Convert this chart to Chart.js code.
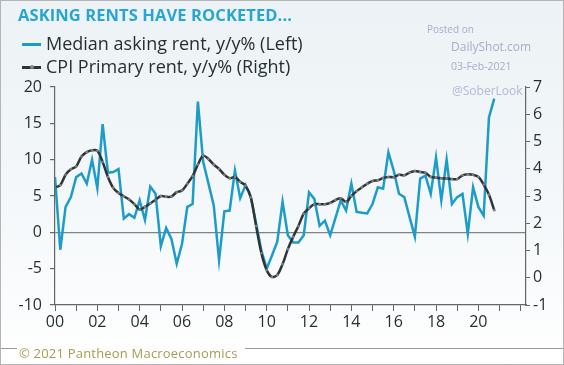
<!DOCTYPE html>
<html>
<head>
<meta charset="utf-8">
<script src="https://cdn.jsdelivr.net/npm/chart.js@4.4.1/dist/chart.umd.min.js"></script>
<style>
  html, body { margin: 0; padding: 0; }
  body {
    width: 564px; height: 365px; position: relative; overflow: hidden;
    background: linear-gradient(180deg, #ecf2f5 0%, #f3f7f9 50%, #fbfcfd 85%, #ffffff 100%);
    font-family: "Open Sans", sans-serif;
  }
  .frame { position: absolute; left: 0; top: 0; width: 562px; height: 363px; border: 1px solid #b5b5b5; pointer-events: none; }
  .title { position: absolute; left: 18px; top: 3px; font-size: 16.5px; font-weight: 700; color: #27a6d3; letter-spacing: 0.1px; }
  .leg { position: absolute; left: 22px; font-size: 18px; color: #26302f; white-space: nowrap; }
  .leg .mk { display: inline-block; width: 19px; height: 3px; vertical-align: middle; margin-right: 5px; position: relative; top: -1px; }
  .leg .dot { position: absolute; left: 8px; top: -1px; width: 4px; height: 4px; border-radius: 50%; background: #888; }
  .wm { position: absolute; color: #aaaaca; white-space: nowrap; }
  .foot { position: absolute; left: 19px; top: 344px; font-size: 13px; color: #a99b52; white-space: nowrap; letter-spacing: 0.2px; }
  .fline { position: absolute; top: 348px; height: 1px; background: #9a9a9a; }
  #wrap { position: absolute; left: 0; top: 0; width: 564px; height: 365px; }
</style>
</head>
<body>
<div id="wrap"><canvas id="chart" width="564" height="365"></canvas></div>
<div class="title">ASKING RENTS HAVE ROCKETED...</div>
<div class="leg" style="top:31px;"><span class="mk" style="background:#1d9cc8;"></span>Median asking rent, y/y% (Left)</div>
<div class="leg" style="top:54px;"><span class="mk" style="background:#2e3536;"><span class="dot"></span></span>CPI Primary rent, y/y% (Right)</div>
<div class="wm" style="left:427px; top:22px; font-size:10px;">Posted on</div>
<div class="wm" style="left:451px; top:38px; font-size:12px;">DailyShot.com</div>
<div class="wm" style="left:451px; top:59px; font-size:10.5px;">03-Feb-2021</div>
<div class="wm" style="left:452px; top:82px; font-size:12px; color:#b6b6d8;">@SoberLook</div>
<div class="fline" style="left:0; width:17px;"></div>
<div class="fline" style="left:245px; width:319px;"></div>
<div class="foot">© 2021 Pantheon Macroeconomics</div>
<div class="frame"></div>

<script>
// quarterly, 2000Q1 .. 2020Q4
const startYear = 2000;
const quarters = Array.from({ length: 84 }, (_, i) => startYear + i / 4);

// Median asking rent, y/y% (left axis)
const askingRent = [
  7.6, -2.4, 3.5, 4.85,   7.6, 8.1, 6.7, 10.0,   6.1, 14.9, 8.2, 8.3,
  8.7, 1.9, 2.5, 2.0,     4.4, 1.7, 6.3, 5.3,    -1.9, 0.6, -0.9, -4.3,
  -1.6, 3.5, 3.9, 18.0,   9.7, 6.7, 3.7, -3.85,  2.9, 3.0, 8.5, 4.7,
  6.5, 4.85, 1.2, -2.5,   -5.0, -3.2, -1.3, 4.2, -0.4, -1.4, -1.4, -0.4,
  5.5, 4.6, 0.9, 1.6,     -0.4, 2.0, 4.4, 3.0,   6.7, 2.8, 2.7, 2.6,
  3.9, 6.2, 6.0, 11.0,    8.5, 5.3, 4.85, 2.1,   -0.6, 7.4, 7.8, 5.3,
  10.3, 4.4, 10.0, 3.9,   4.85, 5.3, -0.2, 6.2,  3.5, 2.3, 15.8, 18.4
];

// CPI primary rent, y/y% (right axis)
const cpiRent = [
  3.31, 3.40, 3.78, 3.98,  4.08, 4.45, 4.61, 4.68,  4.66, 4.25, 3.70, 3.30,
  3.11, 2.99, 2.87, 2.70,  2.50, 2.60, 2.73, 2.86,  3.00, 2.97, 2.98, 3.14,
  3.20, 3.45, 3.73, 4.15,  4.48, 4.36, 4.15, 3.99,  3.78, 3.65, 3.70, 3.52,
  3.38, 2.95, 1.90, 0.90,  0.28, 0.03, 0.10, 0.50,  1.05, 1.50, 1.90, 2.35,
  2.55, 2.70, 2.70, 2.70,  2.75, 2.85, 2.92, 2.78,  3.00, 3.18, 3.32, 3.45,
  3.55, 3.58, 3.66, 3.70,  3.69, 3.78, 3.76, 3.86,  3.92, 3.88, 3.85, 3.70,
  3.67, 3.65, 3.64, 3.62,  3.62, 3.76, 3.80, 3.78,  3.70, 3.42, 3.05, 2.48
];

const leftTicks = [-10, -5, 0, 5, 10, 15, 20];
const rightTicks = [-1, 0, 1, 2, 3, 4, 5, 6, 7];

const tickFont = { family: 'Open Sans', size: 16 };
const inkColor = '#26302f';

new Chart(document.getElementById('chart'), {
  type: 'line',
  data: {
    datasets: [
      {
        label: 'CPI Primary rent, y/y% (Right)',
        data: quarters.map((q, i) => ({ x: q, y: cpiRent[i] })),
        yAxisID: 'yR',
        borderColor: '#2e3536',
        borderWidth: 2.5,
        pointRadius: 1.3,
        pointBackgroundColor: '#7d8284',
        pointBorderWidth: 0,
        tension: 0.3,
        order: 0
      },
      {
        label: 'Median asking rent, y/y% (Left)',
        data: quarters.map((q, i) => ({ x: q, y: askingRent[i] })),
        yAxisID: 'yL',
        borderColor: '#1d9cc8',
        borderWidth: 2.5,
        pointRadius: 0,
        tension: 0,
        order: 1
      }
    ]
  },
  options: {
    responsive: false,
    animation: false,
    devicePixelRatio: 1,
    layout: { padding: { left: 10, right: 0, top: 87, bottom: 0 } },
    plugins: { legend: { display: false }, tooltip: { enabled: false } },
    scales: {
      x: {
        type: 'linear',
        min: 2000,
        max: 2022.25,
        afterBuildTicks: (scale) => {
          scale.ticks = Array.from({ length: 23 }, (_, i) => ({ value: startYear + i }));
        },
        afterFit: (scale) => { scale.height = 60; },
        ticks: {
          autoSkip: false,
          maxRotation: 0,
          padding: 2,
          color: inkColor,
          font: tickFont,
          callback: (v) => (v % 2 === 0 && v <= 2020) ? String(v).slice(2) : ''
        },
        grid: { drawOnChartArea: false, tickLength: 6, tickColor: '#666', tickWidth: 1 },
        border: { color: '#666', width: 1.2 }
      },
      yL: {
        position: 'left',
        min: -10,
        max: 20,
        afterBuildTicks: (scale) => { scale.ticks = leftTicks.map(v => ({ value: v })); },
        afterFit: (scale) => { scale.width = 45; },
        ticks: { color: inkColor, font: tickFont, padding: 8 },
        grid: {
          color: (ctx) => ctx.tick && ctx.tick.value === 0 ? '#7d8486' : 'transparent',
          lineWidth: 1.2,
          tickColor: '#666',
          tickLength: 5
        },
        border: { color: '#666', width: 1.2 }
      },
      yR: {
        position: 'right',
        min: -1,
        max: 7,
        afterBuildTicks: (scale) => { scale.ticks = rightTicks.map(v => ({ value: v })); },
        afterFit: (scale) => { scale.width = 38; },
        ticks: { color: inkColor, font: tickFont, padding: 3 },
        grid: { drawOnChartArea: false, tickColor: '#666', tickLength: 4 },
        border: { color: '#666', width: 1.2 }
      }
    }
  }
});
</script>
</body>
</html>
